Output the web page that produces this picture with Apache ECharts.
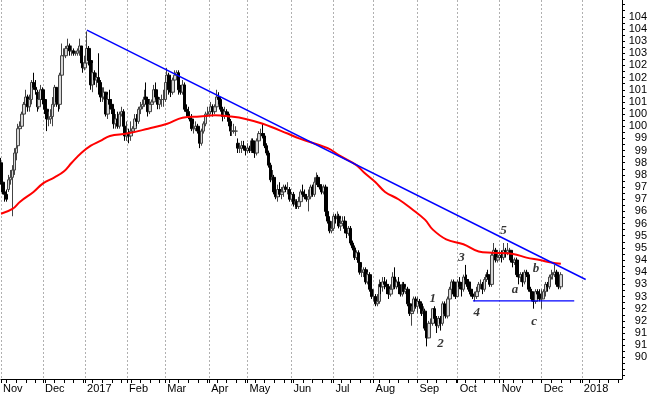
<!DOCTYPE html>
<html>
<head>
<meta charset="utf-8">
<script src="https://cdn.jsdelivr.net/npm/echarts@6/dist/echarts.min.js"></script>
<style>
html,body{margin:0;padding:0;background:#fff;}
#chart{width:650px;height:395px;}
</style>
</head>
<body>
<div id="chart"></div>
<script>
// ---- axis range (weekday categories) ----
const axisStartDate = '2016-11-01';
const axisEndDate = '2018-01-30';
const monthNames = ['Jan','Feb','Mar','Apr','May','Jun','Jul','Aug','Sep','Oct','Nov','Dec'];
const yLabelValues = [90.5,91,91.5,92,92.5,93,93.5,94,94.5,95,95.5,96,96.5,97,97.5,98,98.5,99,99.5,100,100.5,101,101.5,102,102.5,103,103.5,104,104.5];

// ---- daily bars, one per weekday from 2016-11-01 to 2017-12-15 ----
const opens = [
 98.5,97.7,97.3,97.2,97.4,97.8,97.9,98.2,98.9,99.2,99.9,100.0,100.5,100.9,101.2,100.8,101.1,101.8,101.6,101.4,100.8,101.1,
 101.5,101.1,100.7,100.3,100.3,100.4,100.9,101.6,101.0,100.9,102.1,102.9,102.9,103.2,103.3,103.1,103.1,103.0,103.0,103.1,103.3,102.6,
 102.4,102.6,103.2,102.7,101.7,102.2,101.9,102.0,101.8,101.2,101.2,101.4,100.5,101.1,100.9,100.7,100.1,100.3,100.0,100.5,100.6,100.0,
 99.6,99.7,99.6,99.8,99.9,100.3,100.2,100.7,100.8,100.9,101.2,101.1,100.6,100.9,101.0,101.5,101.2,100.9,101.1,101.1,
 101.1,101.8,102.1,101.5,101.4,101.9,102.1,102.2,101.5,101.4,101.7,100.7,100.6,100.4,100.3,99.9,99.9,100.0,99.8,99.3,99.8,100.1,100.5,
 100.5,100.6,100.8,100.6,100.8,101.2,101.1,100.7,100.4,100.6,100.5,100.2,99.8,99.8,99.8,99.3,99.1,99.1,99.2,99.1,
 99.0,99.1,99.0,99.4,99.0,98.9,99.4,99.7,99.7,99.6,99.2,98.9,98.4,97.8,97.9,97.3,97.1,97.4,97.2,97.3,97.5,97.4,97.4,
 97.0,97.2,96.8,96.9,96.7,96.9,97.3,97.2,97.1,97.0,97.1,97.5,97.2,97.7,97.9,97.6,97.5,97.3,97.5,96.5,96.1,95.7,
 95.8,96.3,96.2,96.3,95.9,96.0,96.1,95.8,95.6,95.8,95.2,95.0,94.6,94.8,94.4,94.0,94.0,94.1,93.6,93.9,93.3,
 93.0,93.0,92.7,92.8,93.5,93.4,93.6,93.5,93.4,93.1,93.3,93.8,93.4,93.6,93.4,93.1,93.5,93.2,93.3,92.7,92.3,92.4,92.9,
 92.6,92.8,92.7,92.3,92.4,91.7,91.3,91.9,91.9,92.5,92.1,91.8,92.1,91.9,92.7,92.3,92.2,92.9,93.3,93.6,93.1,
 93.0,93.6,93.4,93.3,93.8,93.7,93.6,93.3,93.1,93.0,93.0,93.2,93.5,93.5,93.3,93.7,93.9,93.8,93.5,94.7,94.9,94.5,
 94.6,94.7,94.6,94.9,94.8,94.9,94.9,94.5,94.4,94.5,93.9,93.8,93.9,93.6,94.0,93.9,93.3,93.2,92.9,92.8,93.2,93.1,
 92.9,92.9,93.2,93.5,93.4,93.8,93.9,93.9,94.0,93.5,93.4
];
const highs = [
 98.7,97.8,97.6,97.4,98.0,98.2,98.4,99.1,99.4,100.1,100.2,100.6,101.0,101.5,101.3,101.3,101.9,102.2,101.9,101.5,101.4,101.7,
 101.6,101.2,101.0,100.6,100.7,101.2,101.7,101.6,101.1,102.2,103.4,103.2,103.3,103.6,103.4,103.3,103.2,103.1,103.2,103.6,103.3,103.3,
 102.9,103.9,103.3,102.8,102.6,102.3,102.2,103.0,101.9,101.6,101.6,101.4,101.3,101.5,101.1,100.8,100.5,100.6,100.6,100.8,100.7,100.1,
 100.2,99.9,100.2,100.0,100.5,100.5,100.8,101.0,101.1,101.5,101.8,101.2,101.1,101.1,101.7,101.8,101.3,101.2,101.3,101.5,
 101.9,102.4,102.2,101.7,102.0,102.3,102.3,102.3,101.7,101.9,101.8,100.9,100.8,100.6,100.5,100.1,100.2,100.1,99.9,99.9,100.2,100.6,100.8,
 100.8,101.0,100.9,100.9,101.5,101.4,101.2,100.8,100.8,100.7,100.6,100.3,100.0,100.1,100.0,99.5,99.3,99.4,99.4,99.2,
 99.3,99.2,99.5,99.5,99.2,99.5,99.8,99.9,100.1,99.7,99.3,99.0,98.5,98.2,98.0,97.5,97.6,97.7,97.5,97.6,97.6,97.7,97.5,
 97.3,97.3,97.0,97.0,97.1,97.4,97.6,97.4,97.2,97.4,97.6,97.6,97.9,98.1,98.0,97.8,97.6,97.6,97.6,96.6,96.3,96.1,
 96.4,96.4,96.5,96.4,96.2,96.3,96.3,96.0,95.9,95.9,95.3,95.1,94.9,94.9,94.5,94.2,94.2,94.2,94.0,94.0,93.4,
 93.3,93.1,93.1,93.7,93.6,93.8,93.8,93.7,93.5,93.5,94.0,94.2,93.7,93.8,93.5,93.6,93.6,93.4,93.4,92.8,92.6,93.0,93.0,
 93.0,92.9,92.8,92.6,92.5,91.8,92.0,92.1,92.5,92.6,92.2,92.2,92.2,92.8,92.8,92.5,93.0,93.4,93.7,93.7,93.3,
 93.7,93.8,93.6,93.9,94.3,93.9,93.7,93.5,93.3,93.2,93.4,93.6,93.7,93.6,93.8,94.0,94.1,93.9,94.8,95.2,95.0,94.9,
 94.9,94.9,95.2,95.0,95.2,95.0,94.9,94.6,94.6,94.6,94.0,94.0,94.0,94.1,94.1,94.0,93.4,93.3,93.0,93.3,93.3,93.3,
 93.3,93.3,93.6,93.6,93.9,94.1,94.0,94.3,94.1,93.7,94.0
];
const lows = [
 97.6,97.2,96.9,96.9,97.3,97.6,96.3,98.0,98.6,99.1,99.4,99.9,100.2,100.7,100.6,100.6,100.9,101.5,101.3,100.6,100.7,101.0,
 100.9,100.5,99.8,100.0,100.1,100.0,100.8,100.8,100.6,100.7,102.0,102.6,102.8,103.0,102.9,102.9,102.9,102.9,102.9,102.9,102.5,102.2,
 102.3,102.5,102.5,101.5,101.4,101.7,101.6,101.3,101.0,101.0,101.1,100.4,100.3,100.7,100.5,99.9,99.9,99.9,99.9,100.4,99.9,99.4,
 99.4,99.3,99.4,99.6,99.8,100.0,100.1,100.5,100.7,100.8,100.9,100.4,100.5,100.8,100.9,101.1,100.7,100.7,100.8,100.8,
 101.0,101.7,101.3,101.2,101.3,101.8,101.9,101.3,101.3,101.3,100.6,100.4,100.3,100.2,99.8,99.7,99.8,99.7,99.1,99.2,99.7,100.0,100.4,
 100.4,100.5,100.4,100.5,100.7,100.9,100.6,100.2,100.3,100.4,100.0,99.6,99.6,99.7,99.6,98.9,98.9,98.9,99.0,98.8,
 98.9,98.9,98.9,98.9,98.7,98.8,99.3,99.5,99.5,99.1,98.8,98.3,97.7,97.5,97.2,97.0,96.9,97.1,97.0,97.1,97.3,97.2,96.9,
 96.9,96.7,96.6,96.6,96.6,96.8,97.1,97.0,96.9,96.5,97.0,97.1,97.1,97.6,97.5,97.4,97.2,97.2,96.3,96.0,95.6,95.6,
 95.7,96.0,96.0,95.8,95.7,95.9,95.6,95.4,95.5,95.1,94.9,94.5,94.5,94.3,93.9,93.8,93.8,93.5,93.5,93.2,92.9,
 92.8,92.6,92.6,92.7,93.1,93.2,93.3,93.1,92.9,93.0,93.2,93.3,93.3,93.1,93.0,93.0,93.1,93.1,92.6,92.2,91.8,92.3,92.5,
 92.3,92.5,92.2,92.1,91.6,90.95,91.3,91.6,91.8,91.9,91.5,91.7,91.6,91.8,92.2,92.1,92.1,92.8,93.2,93.0,92.9,
 93.0,93.3,93.0,93.2,93.5,93.4,93.2,93.0,92.9,92.8,92.9,93.1,93.3,93.1,93.2,93.6,93.7,93.4,93.4,94.5,94.4,94.4,
 94.5,94.4,94.5,94.6,94.7,94.7,94.4,94.2,94.3,93.8,93.5,93.6,93.4,93.5,93.8,93.2,93.1,92.8,92.5,92.7,92.9,92.8,
 92.5,92.9,93.0,93.2,93.3,93.7,93.7,93.8,93.4,93.3,93.3
];
const closes = [
 97.7,97.3,97.2,97.0,97.8,97.9,98.2,98.9,99.1,99.9,100.0,100.5,100.9,101.2,100.8,101.1,101.8,101.6,101.5,100.8,101.1,101.5,
 101.1,100.7,100.3,100.3,100.4,100.9,101.6,101.0,100.9,102.1,102.9,102.9,103.2,103.3,103.1,103.1,103.0,103.0,103.1,103.3,102.6,102.4,
 102.6,103.2,102.7,101.7,102.2,101.9,102.0,101.8,101.2,101.2,101.4,100.5,101.1,100.9,100.7,100.1,100.3,100.0,100.5,100.6,100.0,99.6,
 99.7,99.6,99.8,99.9,100.3,100.2,100.7,100.8,100.9,101.2,101.1,100.6,100.9,101.0,101.5,101.2,100.9,101.1,101.1,101.1,
 101.8,102.1,101.5,101.4,101.9,102.1,102.2,101.5,101.4,101.7,100.7,100.6,100.4,100.3,99.9,99.9,100.0,99.8,99.3,99.8,100.1,100.5,100.5,
 100.6,100.8,100.6,100.8,101.2,101.1,100.7,100.4,100.6,100.5,100.2,99.8,99.8,99.8,99.8,99.1,99.1,99.2,99.1,99.0,
 99.1,99.0,99.4,99.0,98.9,99.4,99.7,99.7,99.6,99.2,98.9,98.4,97.8,97.9,97.3,97.1,97.4,97.2,97.3,97.5,97.4,97.4,97.0,
 97.2,96.8,96.9,96.7,96.9,97.3,97.2,97.1,97.0,97.1,97.5,97.2,97.7,97.9,97.6,97.5,97.3,97.5,96.5,96.1,95.7,95.8,
 96.3,96.2,96.3,95.9,96.0,96.1,95.8,95.6,95.8,95.2,95.0,94.6,94.8,94.4,94.0,94.0,94.1,93.6,93.9,93.3,93.0,
 93.0,92.7,92.8,93.5,93.4,93.6,93.5,93.4,93.1,93.3,93.8,93.4,93.6,93.4,93.1,93.5,93.2,93.3,92.7,92.3,92.4,92.9,92.6,
 92.8,92.7,92.3,92.4,91.7,91.3,91.9,91.9,92.5,92.1,91.8,92.1,91.9,92.7,92.3,92.2,92.9,93.3,93.6,93.1,93.0,
 93.6,93.4,93.3,93.8,93.7,93.6,93.3,93.1,93.0,93.0,93.2,93.5,93.5,93.3,93.7,93.9,93.8,93.5,94.7,94.9,94.5,94.6,
 94.7,94.6,94.9,94.8,94.9,94.9,94.5,94.4,94.5,93.9,93.8,93.9,93.6,94.0,93.9,93.3,93.2,92.9,92.8,93.2,93.1,92.9,
 92.9,93.2,93.5,93.4,93.8,93.9,93.9,94.0,93.5,93.4,93.9
];

// ---- moving average (red) ----
const maDates = ['2016-11-01','2016-11-09','2016-11-15','2016-11-24','2016-12-01','2016-12-09','2016-12-16','2016-12-22','2016-12-29',
 '2017-01-05','2017-01-12','2017-01-19','2017-02-01','2017-02-16','2017-03-02','2017-03-14','2017-03-27','2017-04-06','2017-04-18',
 '2017-04-28','2017-05-11','2017-05-30','2017-06-07','2017-06-28','2017-07-06','2017-07-19','2017-07-25','2017-08-02','2017-08-09',
 '2017-08-18','2017-08-29','2017-09-07','2017-09-13','2017-09-22','2017-10-05','2017-10-17','2017-10-26','2017-11-10','2017-11-21',
 '2017-11-30','2017-12-08','2017-12-15'];
const maValues = [96.4,96.6,96.9,97.3,97.65,97.9,98.15,98.5,98.9,
 99.2,99.4,99.6,99.7,99.9,100.1,100.35,100.4,100.45,100.4,
 100.3,100.1,99.7,99.5,99.1,98.8,98.4,98.1,97.7,97.3,
 97.0,96.6,96.15,95.75,95.35,95.15,94.85,94.8,94.75,94.6,
 94.5,94.4,94.35];

// ---- drawn lines ----
const trendDates = ['2017-01-03','2018-01-03'];
const trendValues = [103.95, 93.7];
const supportDates = ['2017-10-12','2017-12-26'];
const supportValues = [92.82, 92.82];

// ---- wave labels ----
const waveTexts = ['1','2','3','4','5','a','b','c'];
const waveDates = ['2017-09-13','2017-09-19','2017-10-04','2017-10-16','2017-11-03','2017-11-13','2017-11-28','2017-11-27'];
const waveValues = [92.9,91.08,94.58,92.32,95.69,93.27,94.13,91.95];

// build weekday categories
function weekdays(a, b) {
  const out = [];
  let d = new Date(a + 'T00:00:00Z');
  const e = new Date(b + 'T00:00:00Z');
  while (d <= e) {
    const w = d.getUTCDay();
    if (w !== 0 && w !== 6) out.push(d.toISOString().slice(0, 10));
    d = new Date(d.getTime() + 86400000);
  }
  return out;
}
const cats = weekdays(axisStartDate, axisEndDate);
const isMonthStart = (i) => i === 0 || cats[i].slice(5, 7) !== cats[i - 1].slice(5, 7);
const isTick = (i) => isMonthStart(i) || new Date(cats[i] + 'T00:00:00Z').getUTCDay() === 5;

const yTickValues = [];
for (let k = 0; k <= 61; k++) yTickValues.push(89.75 + k * 0.25);

const candleData = closes.map((c, i) => [opens[i], c, lows[i], highs[i]]);

const chart = echarts.init(document.getElementById('chart'), null, {renderer: 'canvas'});
chart.setOption({
  animation: false,
  backgroundColor: '#ffffff',
  grid: {left: 0, right: 27, top: 0, bottom: 16, containLabel: false},
  xAxis: {
    type: 'category',
    data: cats,
    boundaryGap: false,
    axisLine: {show: true, lineStyle: {color: '#000', width: 1}},
    axisTick: {show: true, length: 4, interval: (i) => isTick(i), lineStyle: {color: '#000'}},
    axisLabel: {
      interval: (i) => isMonthStart(i),
      formatter: (v) => {
        const m = parseInt(v.slice(5, 7), 10);
        return m === 1 ? v.slice(0, 4) : monthNames[m - 1];
      },
      align: 'left', margin: 4, padding: [0, 0, 0, 2],
      color: '#000', fontSize: 11, fontFamily: 'Liberation Sans, Arial, sans-serif'
    },
    splitLine: {show: true, interval: (i) => isMonthStart(i), lineStyle: {color: '#b0b0b0', type: [2, 2], width: 1}}
  },
  yAxis: {
    type: 'value',
    position: 'right',
    min: 89.61,
    max: 105.19,
    axisLine: {show: true, lineStyle: {color: '#000', width: 1}},
    axisTick: {show: true, length: 3, customValues: yTickValues, lineStyle: {color: '#000'}},
    axisLabel: {
      customValues: yLabelValues,
      formatter: (v) => String(Math.floor(v + 1e-9)),
      align: 'right', margin: 25,
      color: '#000', fontSize: 11, fontFamily: 'Liberation Sans, Arial, sans-serif'
    },
    splitLine: {show: false}
  },
  series: [
    {
      type: 'candlestick',
      data: candleData,
      barWidth: 3,
      itemStyle: {color: '#d8d8d8', color0: '#000000', borderColor: '#444444', borderColor0: '#000000', borderWidth: 1},
      z: 2
    },
    {
      type: 'line',
      data: maDates.map((d, i) => [d, maValues[i]]),
      smooth: 0.4,
      showSymbol: false,
      symbol: 'none',
      lineStyle: {color: '#ff0000', width: 2},
      z: 3
    },
    {
      type: 'line',
      data: trendDates.map((d, i) => [d, trendValues[i]]),
      showSymbol: false,
      symbol: 'none',
      lineStyle: {color: '#0000ff', width: 1.5},
      z: 4
    },
    {
      type: 'line',
      data: supportDates.map((d, i) => [d, supportValues[i]]),
      showSymbol: false,
      symbol: 'none',
      lineStyle: {color: '#0000ff', width: 1.2},
      z: 4
    },
    {
      type: 'scatter',
      data: waveDates.map((d, i) => ({value: [d, waveValues[i]], name: waveTexts[i]})),
      symbol: 'circle',
      symbolSize: 2,
      itemStyle: {color: 'rgba(0,0,0,0)'},
      label: {
        show: true, position: 'inside',
        formatter: (p) => p.name,
        color: '#000', fontSize: 13, fontStyle: 'italic', fontWeight: 'bold',
        fontFamily: 'Liberation Serif, Times New Roman, serif'
      },
      z: 5
    }
  ]
});
</script>
</body>
</html>
